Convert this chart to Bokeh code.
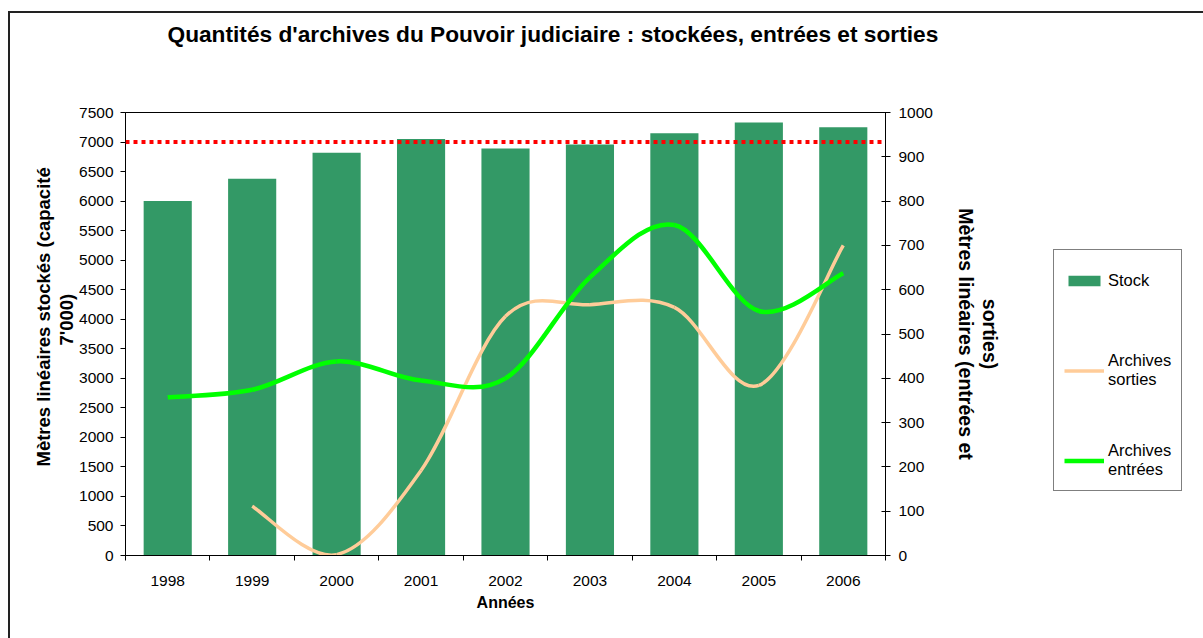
import math
from bokeh.plotting import figure
from bokeh.layouts import row
from bokeh.models import (Range1d, LinearAxis, FixedTicker, Span, Title,
                          Legend, LegendItem)
from bokeh.embed import file_html
from bokeh.resources import INLINE

# ---------------- data ----------------
years = [1998, 1999, 2000, 2001, 2002, 2003, 2004, 2005, 2006]
stock = [6000, 6380, 6820, 7050, 6890, 6960, 7150, 7330, 7250]
sorties_years = [1999, 2000, 2001, 2002, 2003, 2004, 2005, 2006]
sorties = [111, 2, 192, 540, 566, 560, 384, 700]
entrees = [357, 374, 438, 395, 400, 628, 746, 552, 637]
capacity = 7000

left_ticks = list(range(0, 7501, 500))
right_ticks = list(range(0, 1001, 100))

title_text = "Quantités d'archives du Pouvoir judiciaire :  stockées, entrées et sorties"
left_title = ["Mètres linéaires stockés (capacité", "7'000)"]
right_title = ["Mètres linéaires (entrées et", "sorties)"]
x_title = "Années"
legend_labels = ["Stock", "Archives\nsorties", "Archives\nentrées"]

FONT = "Liberation Sans"
BAR_COLOR = "#339966"
ORANGE = "#FFCC99"
GREEN = "#00FF00"


def smooth_segments(xs, ys):
    """Bezier control points (Excel-like smoothing) for each consecutive pair."""
    n = len(xs)
    out = dict(x0=[], y0=[], x1=[], y1=[], cx0=[], cy0=[], cx1=[], cy1=[])
    for i in range(n - 1):
        xm, ym = (xs[i - 1], ys[i - 1]) if i > 0 else (xs[i], ys[i])
        xp, yp = (xs[i + 2], ys[i + 2]) if i + 2 < n else (xs[i + 1], ys[i + 1])
        out["x0"].append(xs[i]); out["y0"].append(ys[i])
        out["x1"].append(xs[i + 1]); out["y1"].append(ys[i + 1])
        out["cx0"].append(xs[i] + (xs[i + 1] - xm) / 6.0)
        out["cy0"].append(ys[i] + (ys[i + 1] - ym) / 6.0)
        out["cx1"].append(xs[i + 1] - (xp - xs[i]) / 6.0)
        out["cy1"].append(ys[i + 1] - (yp - ys[i]) / 6.0)
    return out


def spacer_axis(size, range_name="default", tick=0):
    """Invisible axis used only to reserve space in a side panel."""
    kw = {} if range_name == "default" else {"y_range_name": range_name}
    return LinearAxis(ticker=FixedTicker(ticks=[tick]), major_label_overrides={tick: ""},
                      major_tick_out=size, major_tick_in=0, minor_tick_out=0,
                      major_tick_line_color=None, minor_tick_line_color=None,
                      axis_line_color=None, major_label_standoff=0,
                      major_label_text_font_size="1px", **kw)


p = figure(frame_width=760, frame_height=443,
           x_range=Range1d(years[0] - 0.5, years[-1] + 0.5),
           y_range=Range1d(left_ticks[0], left_ticks[-1]),
           output_backend="svg", toolbar_location=None,
           min_border_left=115, min_border_right=130,
           min_border_top=99, min_border_bottom=83,
           background_fill_color="white", border_fill_color="white",
           outline_line_color="black", outline_line_width=1)
p.xgrid.visible = False
p.ygrid.visible = False
p.extra_y_ranges = {"right": Range1d(right_ticks[0], right_ticks[-1])}

xa = p.below[0]
ya = p.left[0]

# main title
p.title = Title(text=title_text, align="left", offset=42, standoff=0,
                vertical_align="bottom", text_font=FONT, text_font_size="22.7px",
                text_font_style="bold", text_color="black")
p.add_layout(spacer_axis(66, tick=years[4]), "above")

# bars
bars = p.vbar(x=years, top=stock, width=0.57, fill_color=BAR_COLOR, line_color=None)

# smoothed lines
so = smooth_segments(sorties_years, sorties)
r_sorties = p.bezier(source=so, x0="x0", y0="y0", x1="x1", y1="y1", cx0="cx0",
                     cy0="cy0", cx1="cx1", cy1="cy1", line_color=ORANGE,
                     line_width=3.5, y_range_name="right")
en = smooth_segments(years, entrees)
r_entrees = p.bezier(source=en, x0="x0", y0="y0", x1="x1", y1="y1", cx0="cx0",
                     cy0="cy0", cx1="cx1", cy1="cy1", line_color=GREEN,
                     line_width=4.5, y_range_name="right")

# capacity line
p.add_layout(Span(location=capacity, dimension="width", line_color="#FF0000",
                  line_width=4, line_dash="4 4"))

# x axis
xa.ticker = FixedTicker(ticks=years,
                        minor_ticks=[y - 0.5 for y in years] + [years[-1] + 0.5])
xa.major_tick_out = 0
xa.major_tick_in = 0
xa.minor_tick_out = 5
xa.minor_tick_in = 0
xa.minor_tick_line_color = "black"
xa.axis_line_color = "black"
xa.major_label_text_font = FONT
xa.major_label_text_font_size = "15.5px"
xa.major_label_text_color = "black"
xa.major_label_standoff = 15
xa.axis_label = x_title
xa.axis_label_text_font = FONT
xa.axis_label_text_font_style = "bold"
xa.axis_label_text_font_size = "16px"
xa.axis_label_text_color = "black"
xa.axis_label_standoff = 5

# left axis
ya.ticker = FixedTicker(ticks=left_ticks)
ya.major_tick_out = 5
ya.major_tick_in = 0
ya.minor_tick_line_color = None
ya.axis_line_color = "black"
ya.major_tick_line_color = "black"
ya.major_label_text_font = FONT
ya.major_label_text_font_size = "15.5px"
ya.major_label_text_color = "black"
ya.major_label_standoff = 7

# left axis title (two lines, outward from the axis)
p.add_layout(Title(text=left_title[1], align="left", offset=210, standoff=0,
                   vertical_align="bottom", text_font=FONT, text_font_size="18.5px",
                   text_font_style="bold", text_color="black"), "left")
p.add_layout(Title(text=left_title[0], align="left", offset=89, standoff=0,
                   vertical_align="bottom", text_font=FONT, text_font_size="18.5px",
                   text_font_style="bold", text_color="black"), "left")

# right axis
ra = LinearAxis(y_range_name="right", ticker=FixedTicker(ticks=right_ticks))
ra.major_tick_out = 5
ra.major_tick_in = 4
ra.minor_tick_line_color = None
ra.axis_line_color = "black"
ra.major_label_text_font = FONT
ra.major_label_text_font_size = "15.5px"
ra.major_label_text_color = "black"
ra.major_label_standoff = 8
p.add_layout(ra, "right")
p.add_layout(spacer_axis(19, range_name="right", tick=right_ticks[5]), "right")

# right axis title (two lines, outward from the axis)
p.add_layout(Title(text=right_title[0], align="center", standoff=0,
                   vertical_align="bottom", text_font=FONT, text_font_size="19.5px",
                   text_font_style="bold", text_color="black"), "right")
p.add_layout(Title(text=right_title[1], align="center", standoff=0,
                   vertical_align="bottom", text_font=FONT, text_font_size="19.5px",
                   text_font_style="bold", text_color="black"), "right")

# ---- legend panel (separate small figure to the right of the chart) ----
# its glyphs reuse the series but lie outside its 0..1 view, so only the
# legend swatches show
p2 = figure(width=188, height=625, x_range=Range1d(0, 1), y_range=Range1d(0, 1),
            x_axis_type=None, y_axis_type=None, toolbar_location=None,
            output_backend="svg", min_border=0, outline_line_color=None,
            background_fill_color="white", border_fill_color="white")
sw_stock = p2.vbar(x=years, top=stock, width=0.57, fill_color=BAR_COLOR, line_color=None)
sw_sorties = p2.line(x=sorties_years, y=sorties, line_color=ORANGE, line_width=3.5)
sw_entrees = p2.line(x=years, y=entrees, line_color=GREEN, line_width=4.5)

legend = Legend(items=[LegendItem(label=legend_labels[0], renderers=[sw_stock]),
                       LegendItem(label=legend_labels[1], renderers=[sw_sorties]),
                       LegendItem(label=legend_labels[2], renderers=[sw_entrees])],
                location=(38, 64), orientation="vertical",
                label_text_font=FONT, label_text_font_size="16.5px",
                label_text_color="black", label_standoff=4,
                label_text_line_height=1.45,
                glyph_width=40, glyph_height=13, label_height=40,
                spacing=50, padding=10, margin=0,
                border_line_color="black", border_line_width=1,
                background_fill_color="white", background_fill_alpha=1)
p2.add_layout(legend)

layout = row(p, p2)
layout.margin = (11, 0, 0, 8)
layout.styles = {"border-left": "2px solid #222222", "border-top": "2px solid #222222"}

open("out.html", "w").write(file_html(layout, INLINE))
